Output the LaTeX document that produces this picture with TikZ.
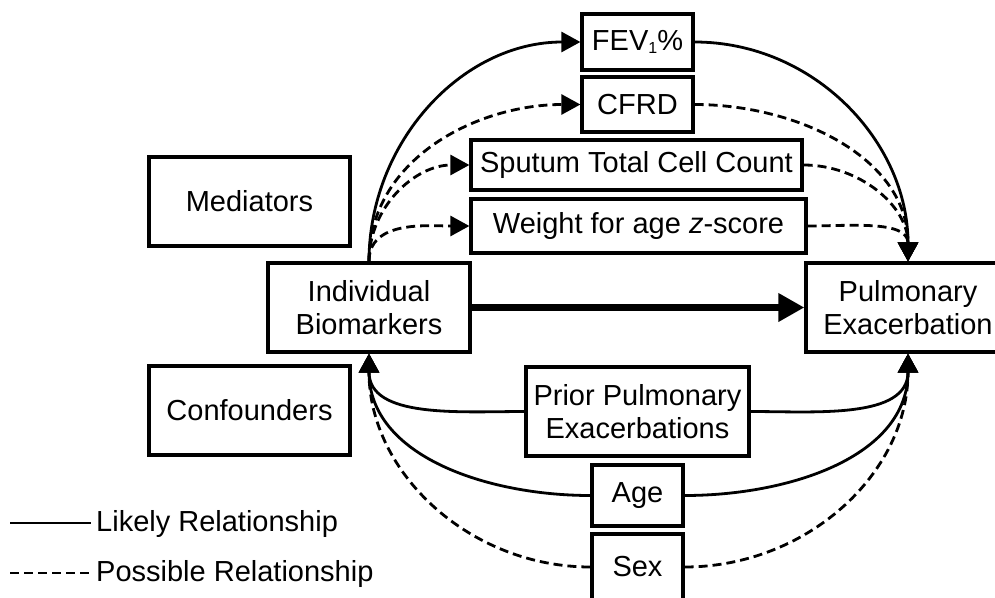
\documentclass[tikz,border=0pt]{standalone}
\usepackage{fontspec}
\setmainfont{Liberation Sans}
\usetikzlibrary{arrows.meta}
\begin{document}
\begin{tikzpicture}[x=1pt,y=1pt,
  box/.style={draw,line width=3.2pt,inner sep=0pt,font=\fontsize{29}{33}\selectfont,align=center},
  rel/.style={line width=2.8pt},
  dsh/.style={rel,dash pattern=on 9pt off 5pt},
  tip/.style={-{Triangle[length=19pt,width=20pt]}},
  lab/.style={inner sep=0pt,font=\fontsize{29}{33}\selectfont}
]
\useasboundingbox (0,0) rectangle (995,-597);
\clip (0,0) rectangle (995,-597);

\node[box,minimum width=201pt,minimum height=89pt] (med) at (249.5,-201.5) {Mediators};
\node[box,minimum width=201pt,minimum height=89pt] (conf) at (249.5,-410.5) {Confounders};
\node[box,minimum width=202pt,minimum height=89pt] (ib) at (369,-307.5) {Individual\\Biomarkers};
\node[box,minimum width=204pt,minimum height=89pt] (pe) at (908,-307.5) {Pulmonary\\Exacerbation};
\node[box,minimum width=111pt,minimum height=56pt] (fev) at (637.5,-42) {FEV\raisebox{-3pt}{\fontsize{16}{16}\selectfont 1}\%};
\node[box,minimum width=111pt,minimum height=55pt] (cfrd) at (637.5,-104.5) {CFRD};
\node[box,minimum width=331pt,minimum height=50pt] (sput) at (636.5,-165) {Sputum Total Cell Count};
\node[box,minimum width=335pt,minimum height=54pt] (wt) at (638.5,-226) {Weight for age \textit{z}-score};
\node[box,minimum width=223pt,minimum height=89pt] (prior) at (637.5,-411.5) {Prior Pulmonary\\Exacerbations};
\node[box,minimum width=91pt,minimum height=61pt] (age) at (637.5,-495.5) {Age};
\node[box,minimum width=91pt,minimum height=66pt] (sex) at (637.5,-567) {Sex};

% mediators
\draw[rel,tip] (ib.north) to[out=90,in=180] (fev.west);
\draw[dsh,tip] (ib.north) to[out=90,in=180] (cfrd.west);
\draw[dsh,tip] (ib.north) to[out=90,in=180] (sput.west);
\draw[dsh,tip] (ib.north) to[out=90,in=180] (wt.west);
\draw[rel,tip] (fev.east) to[out=0,in=90] (pe.north);
\draw[dsh,tip] (cfrd.east) to[out=0,in=90] (pe.north);
\draw[dsh,tip] (sput.east) to[out=0,in=90] (pe.north);
\draw[dsh,tip] (wt.east) to[out=0,in=90] (pe.north);

% main effect
\draw[line width=7.5pt,-{Triangle[length=26pt,width=27pt]}] (ib.east) -- (pe.west);

% confounders
\draw[rel,tip] (prior.west) to[out=180,in=-90] (ib.south);
\draw[rel,tip] (age.west) to[out=180,in=-90] (ib.south);
\draw[dsh,tip] (sex.west) to[out=180,in=-90] (ib.south);
\draw[rel,tip] (prior.east) to[out=0,in=-90] (pe.south);
\draw[rel,tip] (age.east) to[out=0,in=-90] (pe.south);
\draw[dsh,tip] (sex.east) to[out=0,in=-90] (pe.south);

% legend
\coordinate (l1a) at (10,-523);
\coordinate (l1b) at (91,-523);
\coordinate (l2a) at (10,-573);
\coordinate (l2b) at (91,-573);
\node[lab,anchor=west] (l1t) at (96,-524) {Likely Relationship};
\node[lab,anchor=west] (l2t) at (96,-574) {Possible Relationship};
\draw[rel] (l1a) -- (l1b);
\draw[dsh] (l2a) -- (l2b);
\end{tikzpicture}
\end{document}
